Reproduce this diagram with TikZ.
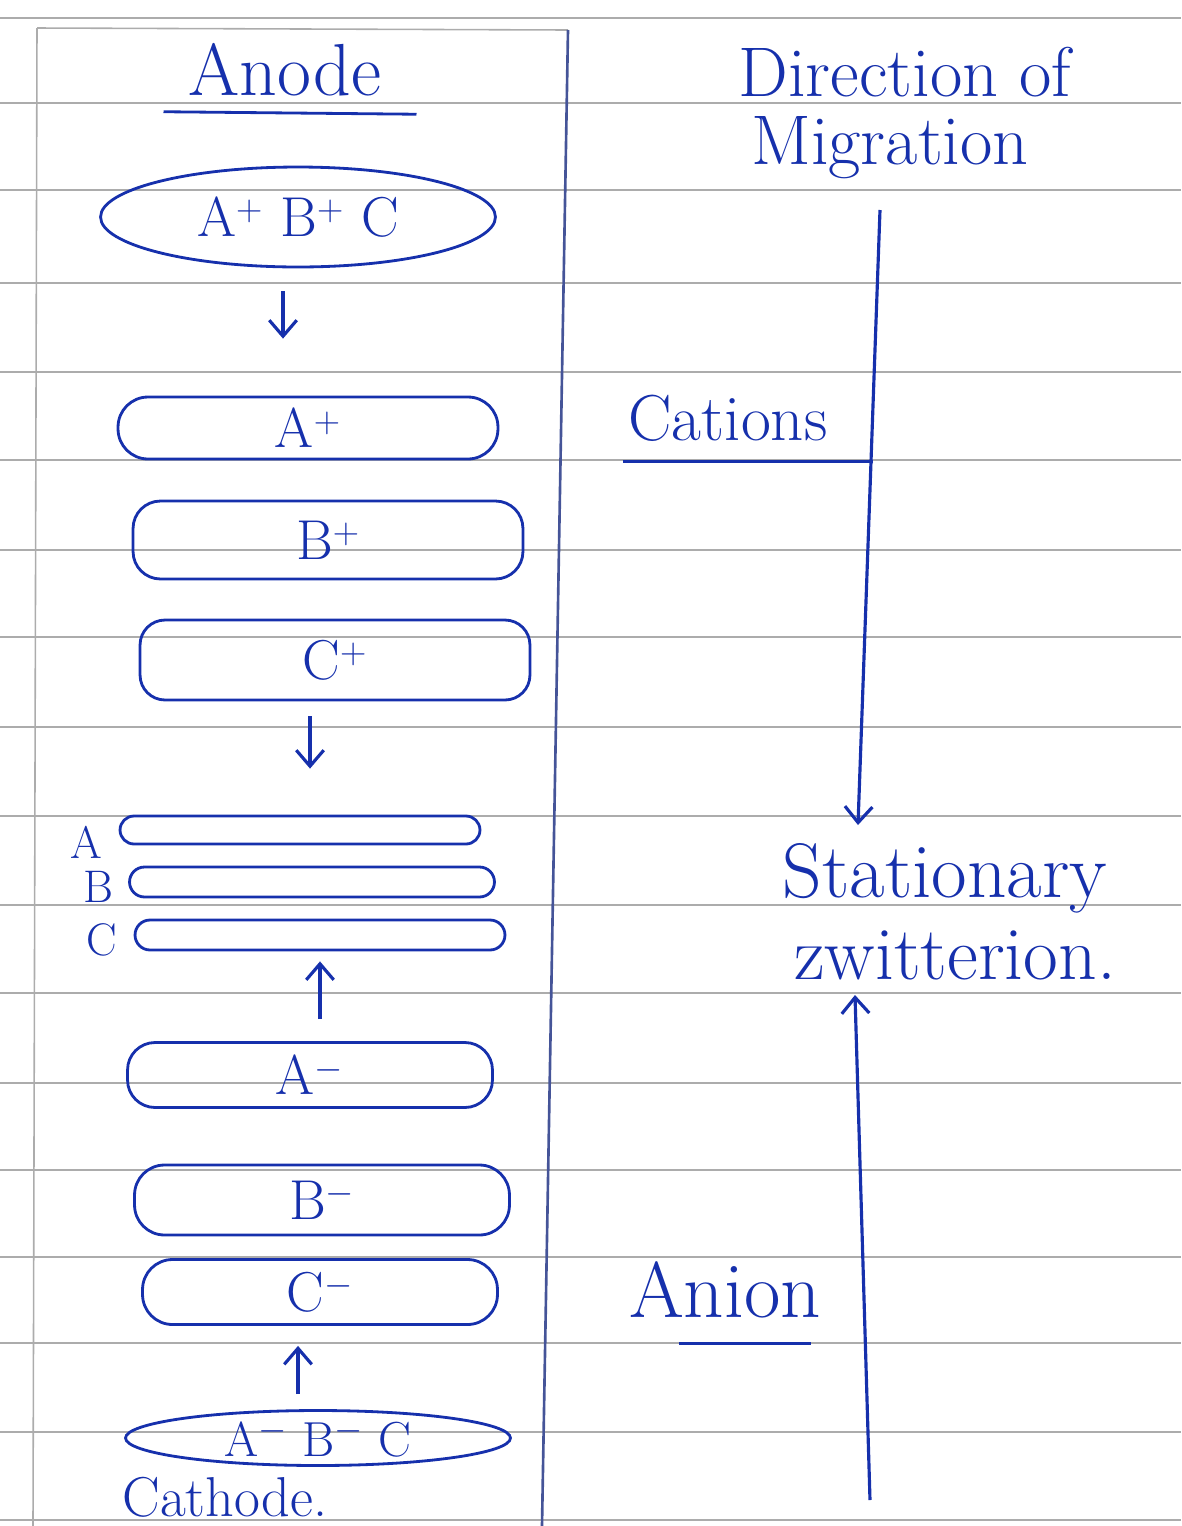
\documentclass[tikz,border=0pt]{standalone}
\usetikzlibrary{shapes.geometric,arrows.meta}
\definecolor{ink}{RGB}{22,48,172}
\begin{document}
\begin{tikzpicture}[>={Straight Barb[length=0.32cm,width=0.55cm]},x=0.02cm,y=-0.02cm,
	ion/.style n args={3}{draw=ink,line width=1.6pt,rounded corners=#3,minimum width=#1,minimum height=#2,inner sep=0pt,text=ink,font=\fontsize{32}{36}\selectfont},
	note/.style={text=ink,inner sep=0pt,font=\fontsize{#1}{#1}\selectfont},
	arr/.style={->,draw=ink,line width=1.8pt},
	uline/.style={draw=ink,line width=1.6pt},
	rule/.style={gray!65,line width=0.9pt}]
	\useasboundingbox (0,0) rectangle (1181,1526);
	% ruled page
	\foreach \y in {18,103,190,283,372,460,550,637,727,816,905,993,1083,1170,1257,1343,1432,1520}
		\draw[rule] (0,\y) -- (1181,\y);
	\draw[rule] (37,28) -- (568,30);
	\draw[rule] (37,28) -- (33,1526);
	\draw[ink!55!gray,line width=1.5pt] (568,30) -- (542,1526);
	% left column
	\node[note=42] (anode) at (285,70) {Anode};
	\draw[uline] ([xshift=-0.5cm,yshift=-0.3cm]anode.south west) -- ([xshift=0.7cm,yshift=-0.35cm]anode.south east);
	\node[ellipse,draw=ink,line width=1.6pt,minimum width=7.9cm,minimum height=2cm,text=ink,font=\fontsize{32}{36}\selectfont] (mix) at (298,217) {A$^+$ B$^+$ C};
	\node[ion={7.6cm}{1.24cm}{0.6cm}] (aplus) at (308,428) {A$^+$};
	\node[ion={7.8cm}{1.56cm}{0.55cm}] (bplus) at (328,540) {B$^+$};
	\node[ion={7.8cm}{1.6cm}{0.5cm}] (cplus) at (335,660) {C$^+$};
	\node[ion={7.2cm}{0.56cm}{0.28cm}] (athin) at (300,830) {};
	\node[ion={7.3cm}{0.6cm}{0.3cm}] (bthin) at (312,882) {};
	\node[ion={7.4cm}{0.6cm}{0.3cm}] (cthin) at (320,935) {};
	\node[note=26] (la) at (86,842) {A};
	\node[note=26] (lb) at (98,887) {B};
	\node[note=26] (lc) at (102,940) {C};
	\node[ion={7.3cm}{1.3cm}{0.55cm}] (aminus) at (310,1075) {A$^-$};
	\node[ion={7.5cm}{1.4cm}{0.6cm}] (bminus) at (322,1200) {B$^-$};
	\node[ion={7.1cm}{1.3cm}{0.6cm}] (cminus) at (320,1292) {C$^-$};
	\node[ellipse,draw=ink,line width=1.6pt,minimum width=7.7cm,minimum height=1.1cm,inner sep=0pt,text=ink,font=\fontsize{28}{32}\selectfont] (ions) at (318,1438) {A$^-$ B$^-$ C};
	\node[note=32] (cathode) at (225,1497) {Cathode.};
	\draw[arr,shorten <=0.46cm,shorten >=1.14cm] ([xshift=-0.3cm]mix.south) -- ([xshift=-0.3cm]mix.south |- aplus.north);
	\draw[arr,shorten <=0.3cm,shorten >=0.92cm] ([xshift=-0.5cm]cplus.south) -- ([xshift=-0.5cm]cplus.south |- athin.north);
	\draw[arr,shorten <=0.44cm,shorten >=0.2cm] ([xshift=0.2cm]aminus.north) -- ([xshift=0.2cm]aminus.north |- cthin.south);
	\draw[arr,shorten <=0.3cm,shorten >=0.4cm] ([xshift=-0.4cm]ions.north) -- ([xshift=-0.4cm]ions.north |- cminus.south);
	% right column
	\node[note=40] (dir) at (905,72) {Direction of};
	\node[note=40] (mig) at (890,148) {Migration};
	\node[note=37] (cations) at (728,418) {Cations};
	\draw[uline] ([xshift=-0.1cm,yshift=-0.4cm]cations.south west) -- ([xshift=0.9cm,yshift=-0.4cm]cations.south east);
	\node[note=44] (stat) at (945,878) {Stationary};
	\node[note=43] (zwit) at (955,955) {zwitterion.};
	\node[note=45] (anion) at (725,1290) {Anion};
	\draw[uline] ([xshift=1cm,yshift=-0.5cm]anion.south west) -- ([xshift=-0.2cm,yshift=-0.5cm]anion.south east);
	\coordinate (ctop) at (880,210);
	\coordinate (cstop) at (858,825);
	\coordinate (abot) at (870,1500);
	\coordinate (astop) at (855,995);
	\draw[arr] (ctop) -- (cstop);
	\draw[arr] (abot) -- (astop);
\end{tikzpicture}
\end{document}
